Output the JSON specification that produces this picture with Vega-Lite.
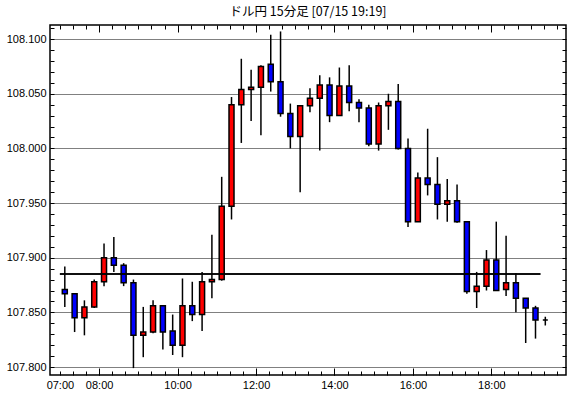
{
  "$schema": "https://vega.github.io/schema/vega-lite/v6.json",
  "width": 516,
  "height": 350,
  "autosize": "none",
  "padding": {"left": 50, "top": 25, "right": 4, "bottom": 23},
  "background": "white",
  "title": {"text": "ドル円 15分足 [07/15 19:19]", "font": "Noto Sans CJK JP", "fontSize": 12.5, "fontWeight": "normal", "color": "black", "anchor": "middle", "frame": "group", "baseline": "bottom", "offset": 5, "dy": 12},
  "config": {
    "view": {"stroke": "black", "strokeWidth": 1.5},
    "axis": {"labelFont": "Liberation Sans", "labelFontSize": 11, "labelColor": "black", "tickColor": "black", "tickWidth": 1, "domain": false, "grid": false, "minExtent": 0}
  },
  "datasets": {
    "candles": [
      {"t": "2020-07-15T07:07:30Z", "o": 107.871, "h": 107.892, "l": 107.855, "c": 107.867},
      {"t": "2020-07-15T07:22:30Z", "o": 107.867, "h": 107.867, "l": 107.832, "c": 107.845},
      {"t": "2020-07-15T07:37:30Z", "o": 107.845, "h": 107.861, "l": 107.829, "c": 107.855},
      {"t": "2020-07-15T07:52:30Z", "o": 107.855, "h": 107.880, "l": 107.854, "c": 107.878},
      {"t": "2020-07-15T08:07:30Z", "o": 107.878, "h": 107.913, "l": 107.874, "c": 107.900},
      {"t": "2020-07-15T08:22:30Z", "o": 107.900, "h": 107.919, "l": 107.887, "c": 107.893},
      {"t": "2020-07-15T08:37:30Z", "o": 107.893, "h": 107.895, "l": 107.874, "c": 107.877},
      {"t": "2020-07-15T08:52:30Z", "o": 107.877, "h": 107.880, "l": 107.799, "c": 107.829},
      {"t": "2020-07-15T09:07:30Z", "o": 107.829, "h": 107.855, "l": 107.809, "c": 107.832},
      {"t": "2020-07-15T09:22:30Z", "o": 107.832, "h": 107.861, "l": 107.831, "c": 107.856},
      {"t": "2020-07-15T09:37:30Z", "o": 107.856, "h": 107.856, "l": 107.816, "c": 107.832},
      {"t": "2020-07-15T09:52:30Z", "o": 107.833, "h": 107.848, "l": 107.811, "c": 107.820},
      {"t": "2020-07-15T10:07:30Z", "o": 107.820, "h": 107.881, "l": 107.809, "c": 107.856},
      {"t": "2020-07-15T10:22:30Z", "o": 107.856, "h": 107.878, "l": 107.842, "c": 107.848},
      {"t": "2020-07-15T10:37:30Z", "o": 107.848, "h": 107.887, "l": 107.833, "c": 107.878},
      {"t": "2020-07-15T10:52:30Z", "o": 107.878, "h": 107.921, "l": 107.863, "c": 107.880},
      {"t": "2020-07-15T11:07:30Z", "o": 107.880, "h": 107.974, "l": 107.879, "c": 107.947},
      {"t": "2020-07-15T11:22:30Z", "o": 107.947, "h": 108.047, "l": 107.935, "c": 108.040},
      {"t": "2020-07-15T11:37:30Z", "o": 108.040, "h": 108.082, "l": 108.005, "c": 108.054},
      {"t": "2020-07-15T11:52:30Z", "o": 108.054, "h": 108.072, "l": 108.025, "c": 108.056},
      {"t": "2020-07-15T12:07:30Z", "o": 108.056, "h": 108.076, "l": 108.012, "c": 108.075},
      {"t": "2020-07-15T12:22:30Z", "o": 108.077, "h": 108.104, "l": 108.052, "c": 108.061},
      {"t": "2020-07-15T12:37:30Z", "o": 108.061, "h": 108.107, "l": 108.029, "c": 108.032},
      {"t": "2020-07-15T12:52:30Z", "o": 108.032, "h": 108.041, "l": 108.000, "c": 108.011},
      {"t": "2020-07-15T13:07:30Z", "o": 108.011, "h": 108.039, "l": 107.960, "c": 108.039},
      {"t": "2020-07-15T13:22:30Z", "o": 108.039, "h": 108.055, "l": 108.033, "c": 108.046},
      {"t": "2020-07-15T13:37:30Z", "o": 108.046, "h": 108.067, "l": 107.998, "c": 108.058},
      {"t": "2020-07-15T13:52:30Z", "o": 108.058, "h": 108.065, "l": 108.024, "c": 108.030},
      {"t": "2020-07-15T14:07:30Z", "o": 108.030, "h": 108.074, "l": 108.030, "c": 108.057},
      {"t": "2020-07-15T14:22:30Z", "o": 108.057, "h": 108.076, "l": 108.034, "c": 108.042},
      {"t": "2020-07-15T14:37:30Z", "o": 108.042, "h": 108.045, "l": 108.024, "c": 108.037},
      {"t": "2020-07-15T14:52:30Z", "o": 108.037, "h": 108.040, "l": 108.002, "c": 108.004},
      {"t": "2020-07-15T15:07:30Z", "o": 108.004, "h": 108.042, "l": 107.998, "c": 108.039},
      {"t": "2020-07-15T15:22:30Z", "o": 108.039, "h": 108.050, "l": 108.017, "c": 108.043},
      {"t": "2020-07-15T15:37:30Z", "o": 108.043, "h": 108.059, "l": 107.999, "c": 108.000},
      {"t": "2020-07-15T15:52:30Z", "o": 108.000, "h": 108.009, "l": 107.928, "c": 107.933},
      {"t": "2020-07-15T16:07:30Z", "o": 107.933, "h": 107.978, "l": 107.933, "c": 107.973},
      {"t": "2020-07-15T16:22:30Z", "o": 107.973, "h": 108.018, "l": 107.957, "c": 107.967},
      {"t": "2020-07-15T16:37:30Z", "o": 107.967, "h": 107.992, "l": 107.935, "c": 107.949},
      {"t": "2020-07-15T16:52:30Z", "o": 107.949, "h": 107.972, "l": 107.933, "c": 107.952},
      {"t": "2020-07-15T17:07:30Z", "o": 107.952, "h": 107.967, "l": 107.932, "c": 107.933},
      {"t": "2020-07-15T17:22:30Z", "o": 107.933, "h": 107.933, "l": 107.867, "c": 107.869},
      {"t": "2020-07-15T17:37:30Z", "o": 107.869, "h": 107.887, "l": 107.854, "c": 107.874},
      {"t": "2020-07-15T17:52:30Z", "o": 107.874, "h": 107.907, "l": 107.870, "c": 107.898},
      {"t": "2020-07-15T18:07:30Z", "o": 107.898, "h": 107.933, "l": 107.870, "c": 107.870},
      {"t": "2020-07-15T18:22:30Z", "o": 107.871, "h": 107.920, "l": 107.865, "c": 107.877},
      {"t": "2020-07-15T18:37:30Z", "o": 107.877, "h": 107.886, "l": 107.850, "c": 107.863},
      {"t": "2020-07-15T18:52:30Z", "o": 107.863, "h": 107.863, "l": 107.822, "c": 107.854},
      {"t": "2020-07-15T19:07:30Z", "o": 107.854, "h": 107.856, "l": 107.826, "c": 107.843},
      {"t": "2020-07-15T19:22:30Z", "o": 107.843, "h": 107.846, "l": 107.838, "c": 107.843}
    ],
    "base": [
      {"start": "2020-07-15T07:00:00Z", "end": "2020-07-15T19:15:00Z", "price": 107.885}
    ]
  },
  "resolve": {"axis": {"x": "independent", "y": "independent"}},
  "layer": [
    {
      "data": {"name": "candles"},
      "mark": {"type": "rule", "color": "black", "strokeWidth": 1.5},
      "encoding": {
        "x": {"field": "t", "type": "temporal",
          "scale": {"domain": [1594795950000, 1594842390000]},
          "axis": {"orient": "bottom", "title": null, "values": [1594796400000, 1594800000000, 1594807200000, 1594814400000, 1594821600000, 1594828800000, 1594836000000], "ticks": false, "labelPadding": 4, "labelOverlap": false, "labelFlush": false, "labelExpr": "utcFormat(datum.value, '%H:%M')"}},
        "y": {"field": "l", "type": "quantitative",
          "scale": {"domain": [107.7927, 108.1129], "nice": false, "zero": false},
          "axis": {"orient": "left", "title": null, "values": [107.8, 107.85, 107.9, 107.95, 108.0, 108.05, 108.1], "ticks": false, "labelPadding": 4, "labelOverlap": false, "labelFlush": false, "format": ".3f"}},
        "y2": {"field": "h"}
      }
    },
    {
      "data": {"name": "candles"},
      "transform": [{"filter": "datum.c >= datum.o"}],
      "mark": {"type": "bar", "size": 5, "fill": "#ff0000", "stroke": "black", "strokeWidth": 1.5},
      "encoding": {
        "x": {"field": "t", "type": "temporal",
          "axis": {"orient": "top", "title": null, "values": [1594796400000, 1594797600000, 1594798800000, 1594800000000, 1594801200000, 1594802400000, 1594803600000, 1594804800000, 1594806000000, 1594807200000, 1594808400000, 1594809600000, 1594810800000, 1594812000000, 1594813200000, 1594814400000, 1594815600000, 1594816800000, 1594818000000, 1594819200000, 1594820400000, 1594821600000, 1594822800000, 1594824000000, 1594825200000, 1594826400000, 1594827600000, 1594828800000, 1594830000000, 1594831200000, 1594832400000, 1594833600000, 1594834800000, 1594836000000, 1594837200000, 1594838400000, 1594839600000, 1594840800000, 1594842000000], "tickSize": -4, "labels": false}},
        "y": {"field": "o", "type": "quantitative",
          "axis": {"orient": "right", "title": null, "tickCount": 32, "tickSize": -4, "labels": false}},
        "y2": {"field": "c"}
      }
    },
    {
      "data": {"name": "candles"},
      "transform": [{"filter": "datum.c < datum.o"}],
      "mark": {"type": "bar", "size": 5, "fill": "#0000ff", "stroke": "black", "strokeWidth": 1.5},
      "encoding": {
        "x": {"field": "t", "type": "temporal",
          "axis": {"orient": "bottom", "title": null, "values": [1594796400000, 1594797600000, 1594798800000, 1594800000000, 1594801200000, 1594802400000, 1594803600000, 1594804800000, 1594806000000, 1594807200000, 1594808400000, 1594809600000, 1594810800000, 1594812000000, 1594813200000, 1594814400000, 1594815600000, 1594816800000, 1594818000000, 1594819200000, 1594820400000, 1594821600000, 1594822800000, 1594824000000, 1594825200000, 1594826400000, 1594827600000, 1594828800000, 1594830000000, 1594831200000, 1594832400000, 1594833600000, 1594834800000, 1594836000000, 1594837200000, 1594838400000, 1594839600000, 1594840800000, 1594842000000], "tickSize": -4, "labels": false}},
        "y": {"field": "o", "type": "quantitative",
          "axis": {"orient": "left", "title": null, "values": [107.8, 107.85, 107.9, 107.95, 108.0, 108.05, 108.1], "grid": true, "gridDash": [1, 1], "gridColor": "black", "gridWidth": 1, "gridOpacity": 1, "ticks": false, "labels": false}},
        "y2": {"field": "c"}
      }
    },
    {
      "data": {"name": "base"},
      "mark": {"type": "rule", "color": "black", "strokeWidth": 1.5},
      "encoding": {
        "x": {"field": "start", "type": "temporal",
          "axis": {"orient": "top", "title": null, "values": [1594800000000, 1594807200000, 1594814400000, 1594821600000, 1594828800000, 1594836000000], "tickSize": -7, "labels": false}},
        "x2": {"field": "end"},
        "y": {"field": "price", "type": "quantitative",
          "axis": {"orient": "left", "title": null, "tickCount": 32, "tickSize": -4, "labels": false}}
      }
    },
    {
      "data": {"name": "base"},
      "mark": {"type": "rule", "color": "black", "strokeWidth": 1.5},
      "encoding": {
        "x": {"field": "start", "type": "temporal",
          "axis": {"orient": "bottom", "title": null, "values": [1594800000000, 1594807200000, 1594814400000, 1594821600000, 1594828800000, 1594836000000], "tickSize": -7, "labels": false}},
        "x2": {"field": "end"},
        "y": {"field": "price", "type": "quantitative", "axis": null}
      }
    }
  ]
}
